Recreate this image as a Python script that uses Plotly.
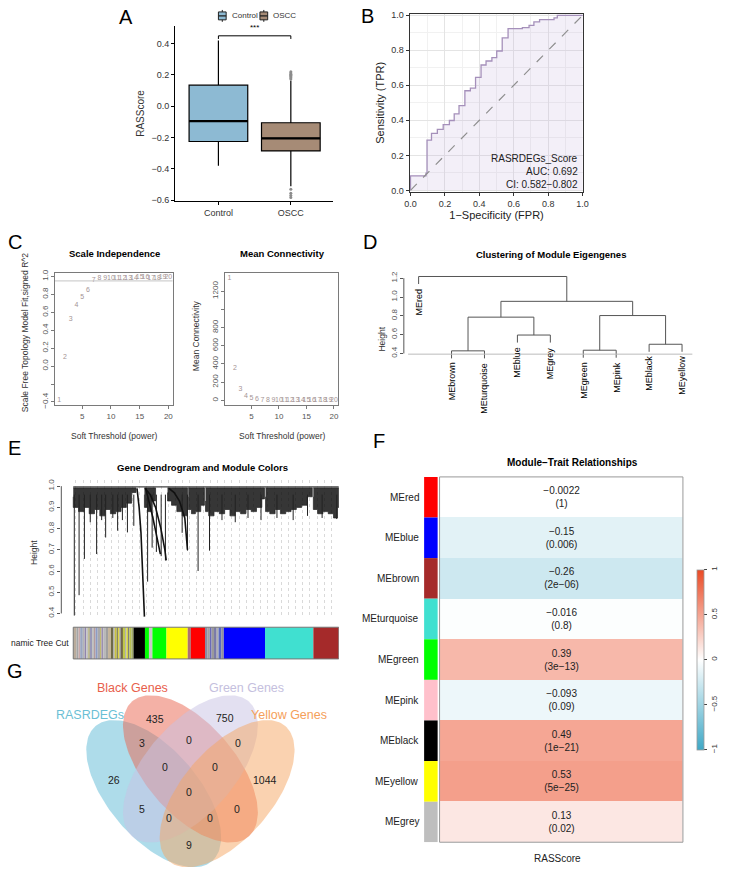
import numpy as np
import plotly.graph_objects as go

W, H = 729, 871
FONT = "Liberation Sans, Arial, sans-serif"

# ---------------- data ----------------
# A: RASScore boxplot
groups = ["Control", "OSCC"]
box_q1 = [-0.225, -0.285]
box_median = [-0.095, -0.205]
box_q3 = [0.135, -0.105]
box_low = [-0.38, -0.51]
box_high = [0.42, 0.165]
oscc_outliers = [0.175, 0.183, 0.19, 0.198, 0.205, 0.213, 0.22, -0.53, -0.555, -0.57, -0.582]

# B: ROC curve (step corners)
roc_fpr = [0, 0, 0.09, 0.096, 0.122, 0.156, 0.19, 0.226, 0.254, 0.282, 0.316, 0.348, 0.378,
           0.41, 0.439, 0.473, 0.501, 0.533, 0.567, 0.65, 0.689, 0.717, 0.75, 0.834, 0.853, 1.0]
roc_tpr = [0, 0.083, 0.098, 0.287, 0.325, 0.348, 0.376, 0.399, 0.437, 0.484, 0.569, 0.584, 0.645,
           0.716, 0.739, 0.758, 0.796, 0.871, 0.924, 0.93, 0.943, 0.962, 0.975, 0.985, 1.0, 1.0]
roc_text = ["RASRDEGs_Score", "AUC: 0.692", "CI: 0.582\u22120.802"]

# C: soft threshold
powers = [1, 2, 3, 4, 5, 6, 7, 8, 9, 10, 11, 12, 13, 14, 15, 16, 17, 18, 19, 20]
sft_r2 = [-0.38, 0.10, 0.52, 0.68, 0.77, 0.85, 0.955, 0.975, 0.98, 0.98,
          0.983, 0.985, 0.985, 0.985, 0.987, 0.987, 0.985, 0.985, 0.987, 0.987]
mean_k = [1340, 350, 120, 45, 20, 10, 6, 4, 3, 2, 1.5, 1.2, 1.0, 0.8, 0.7, 0.6, 0.5, 0.4, 0.35, 0.3]
r2_cut = 0.95

# D: eigengene clustering (R hclust style merge table)
me_leaves = ["MEred", "MEbrown", "MEturquoise", "MEblue", "MEgrey", "MEgreen", "MEpink", "MEblack", "MEyellow"]
me_merge_left = [-2, -6, -8, -4, 1, 2, 5, -1]
me_merge_right = [-3, -7, -9, -5, 4, 3, 6, 7]
me_merge_height = [0.428, 0.435, 0.498, 0.596, 0.786, 0.803, 0.954, 1.218]
me_hang = 0.08

# E: gene dendrogram (x in % of leaves)
gene_canopy_group = [1] * 13 + [2] * 4 + [3] * 5 + [4] * 5 + [5] * 13 + [6] * 10 + [7] * 7
gene_canopy_x = [0, 2, 4, 6, 8, 10, 12, 14, 16, 18, 20, 22, 23.6,
                 26.8, 28, 29.5, 31,
                 35.5, 37, 39, 41, 43,
                 43.3, 44.5, 46, 48, 49.4,
                 49.8, 51, 53, 55, 57, 59, 61, 63, 65, 67, 69, 71, 72,
                 72.4, 74, 76, 78, 80, 82, 84, 86, 88, 90,
                 90.4, 92, 94, 96, 98, 99.5, 100]
gene_canopy_low = [0.95, 0.90, 0.88, 0.90, 0.87, 0.89, 0.86, 0.89, 0.87, 0.88, 0.90, 0.92, 0.97,
                   0.96, 0.90, 0.88, 0.93,
                   0.97, 0.93, 0.91, 0.88, 0.86,
                   0.95, 0.89, 0.87, 0.88, 0.91,
                   0.93, 0.88, 0.86, 0.88, 0.87, 0.89, 0.86, 0.88, 0.87, 0.89, 0.88, 0.90, 0.94,
                   0.95, 0.88, 0.87, 0.89, 0.87, 0.88, 0.89, 0.90, 0.91, 0.95,
                   0.95, 0.89, 0.87, 0.88, 0.87, 0.85, 0.90]
gene_spike_x = [0.4, 2.2, 4.2, 6.4, 8.8, 10.7, 12.2, 14.9, 16.7, 18.5, 20.4, 22.8, 28, 29.7, 31.3,
                33.1, 34.7, 41, 43, 47, 51.3, 56, 61, 65.8, 70.7, 76.7, 82.8, 88.2, 93.7, 99.2]
gene_spike_low = [0.39, 0.486, 0.657, 0.83, 0.68, 0.84, 0.758, 0.85, 0.79, 0.84, 0.782, 0.813, 0.55, 0.71, 0.69,
                  0.67, 0.65, 0.78, 0.696, 0.60, 0.696, 0.84, 0.83, 0.85, 0.84, 0.85, 0.84, 0.86, 0.85, 0.845]
gene_curve_group = [1] * 6 + [2] * 6 + [3] * 5 + [4] * 5
gene_curve_x = [24.0, 24.8, 25.5, 26.1, 26.5, 26.8,
                27.0, 29.0, 31.0, 33.0, 34.5, 35.0,
                27.3, 28.5, 30.0, 31.5, 32.8,
                36.0, 38.0, 40.0, 42.0, 43.0]
gene_curve_h = [0.99, 0.90, 0.78, 0.62, 0.48, 0.385,
                0.99, 0.96, 0.90, 0.80, 0.70, 0.65,
                0.99, 0.93, 0.85, 0.76, 0.68,
                0.99, 0.97, 0.93, 0.85, 0.70]
gene_top = 0.992
gene_root = 0.997

# E: dynamic tree cut colour stripes (widths in % of leaves)
cut_colors = ["#b9ab9b", "#a5a5a5", "#c9a9a9", "#9aa6c0", "#b4b4b4", "#8f84ad", "#c2c2c2", "#a7a25e",
              "#9999b8", "#bdbdbd", "#b59c9c", "#8c9cc4", "#a9a9a9", "#bab36a", "#9b8fb0", "#b8b8b8",
              "#a0a0a0", "#c4b49a",
              "#6e6a48", "#a9a9a9", "#c8c040", "#8a8a5a", "#d8d030", "#9a9a9a", "#6b5f3f", "#c0c84a",
              "#b0b0b0", "#d4d43c", "#7f7f7f", "#b8c050", "#9fa86a",
              "#000000", "#00FF00", "#c8c8c8", "#00FF00", "#FFFF00", "#b07070", "#FF0000",
              "#8a8aa0", "#a0a0a0", "#6a6ab8", "#9a9a9a", "#7a7aa8", "#b0b0b0", "#5a6ac0", "#8f8f9f",
              "#0000FF", "#40E0D0", "#A52A2A"]
cut_widths = [1.2, 0.8, 0.6, 1.0, 0.7, 0.6, 0.8, 0.5, 0.9, 0.7, 0.6, 0.8, 0.9, 0.5, 0.7, 0.8, 1.0, 1.1,
              0.8, 0.6, 0.7, 0.6, 0.5, 0.6, 0.7, 0.8, 0.5, 0.6, 0.5, 0.8, 0.8,
              4.3, 1.5, 1.3, 5.3, 8.0, 1.2, 5.3,
              1.0, 0.8, 0.7, 0.9, 1.0, 0.7, 1.0, 1.0,
              15.5, 18.2, 9.6]

# F: module-trait relationships
mt_modules = ["MEred", "MEblue", "MEbrown", "MEturquoise", "MEgreen", "MEpink", "MEblack", "MEyellow", "MEgrey"]
mt_side = ["#FF0000", "#0000FF", "#A52A2A", "#40E0D0", "#00FF00", "#FFC0CB", "#000000", "#FFFF00", "#BEBEBE"]
mt_cor = [-0.0022, -0.15, -0.26, -0.016, 0.39, -0.093, 0.49, 0.53, 0.13]
mt_p = ["1", "0.006", "2e-06", "0.8", "3e-13", "0.09", "1e-21", "5e-25", "0.02"]

# G: Venn
venn_names = ["RASRDEGs", "Black Genes", "Green Genes", "Yellow Genes"]
venn_counts = [435, 750, 3, 0, 0, 26, 0, 0, 1044, 0, 5, 0, 0, 0, 9]

# ---------------- layout helpers ----------------
def xd(a, b):
    return [a / W, b / W]


def yd(top, bottom):
    return [1 - bottom / H, 1 - top / H]


def px(x):
    return x / W


def py(y):
    return 1 - y / H


fig = go.Figure()
ann = []
shapes = []


def label(x, y, text, size=9, bold=False, angle=0, xanchor="center", yanchor="middle", color="black",
          xref="paper", yref="paper"):
    t = "<b>%s</b>" % text if bold else text
    ann.append(dict(x=x, y=y, xref=xref, yref=yref, text=t, showarrow=False, textangle=angle,
                    xanchor=xanchor, yanchor=yanchor, font=dict(size=size, color=color, family=FONT)))


# ---------------- A ----------------
box_colors = ["#8DBAD3", "#A68B76"]
for i, g in enumerate(groups):
    fig.add_trace(go.Box(x=[i], q1=[box_q1[i]], median=[box_median[i]], q3=[box_q3[i]],
                         lowerfence=[box_low[i]], upperfence=[box_high[i]], name=g,
                         fillcolor=box_colors[i], line=dict(color="black", width=1.2),
                         width=0.81, whiskerwidth=0, boxpoints=False, hoverinfo="skip",
                         showlegend=False, xaxis="x", yaxis="y"))
    fig.add_trace(go.Scatter(x=[i - 0.405, i + 0.405], y=[box_median[i]] * 2, mode="lines",
                             line=dict(color="black", width=2.4), showlegend=False,
                             xaxis="x", yaxis="y"))
fig.add_trace(go.Scatter(x=[1] * len(oscc_outliers), y=oscc_outliers, mode="markers",
                         marker=dict(size=3, color="#8c8c8c"), showlegend=False, xaxis="x", yaxis="y"))
fig.add_trace(go.Scatter(x=[0, 0, 1, 1], y=[0.43, 0.45, 0.45, 0.43], mode="lines",
                         line=dict(color="black", width=1), showlegend=False, xaxis="x", yaxis="y"))
label(0.5, 0.462, "***", size=8, xref="x", yref="y", yanchor="bottom")

# legend keys drawn like ggplot box glyphs
for g, col, kx in zip(groups, box_colors, [225, 268]):
    shapes.append(dict(type="line", xref="paper", yref="paper", x0=px(kx), x1=px(kx), y0=py(18), y1=py(6),
                       line=dict(color="#222", width=1)))
    shapes.append(dict(type="rect", xref="paper", yref="paper", x0=px(kx - 4), x1=px(kx + 4),
                       y0=py(16), y1=py(8), fillcolor=col, line=dict(color="#222", width=1)))
    shapes.append(dict(type="line", xref="paper", yref="paper", x0=px(kx - 4), x1=px(kx + 4),
                       y0=py(12), y1=py(12), line=dict(color="#222", width=1.3)))
    label(px(kx + 7.5), py(12), g, size=8, xanchor="left", color="#333")

# ---------------- B ----------------
fig.add_trace(go.Scatter(x=roc_fpr, y=roc_tpr, mode="lines", line=dict(color="#A590BA", width=1.3, shape="hv"),
                         fill="tozeroy", fillcolor="rgba(190,165,215,0.18)", showlegend=False,
                         xaxis="x2", yaxis="y2"))
fig.add_trace(go.Scatter(x=[0, 1], y=[0, 1], mode="lines", line=dict(color="#8f8f8f", width=1.2, dash="dash"),
                         showlegend=False, xaxis="x2", yaxis="y2"))
for t, yy in zip(roc_text, [0.183, 0.108, 0.036]):
    label(0.985, yy, t, size=10, xref="x2", yref="y2", xanchor="right", color="#222")

# ---------------- C ----------------
txt_col = "#a49494"
fig.add_trace(go.Scatter(x=powers, y=sft_r2, mode="text", text=[str(p) for p in powers],
                         textfont=dict(size=7, color=txt_col, family=FONT), showlegend=False,
                         xaxis="x3", yaxis="y3"))
fig.add_trace(go.Scatter(x=[0.24, 20.76], y=[r2_cut, r2_cut], mode="lines", line=dict(color="#c4c4c4", width=1),
                         showlegend=False, xaxis="x3", yaxis="y3"))
fig.add_trace(go.Scatter(x=powers, y=mean_k, mode="text", text=[str(p) for p in powers],
                         textfont=dict(size=7, color=txt_col, family=FONT), showlegend=False,
                         xaxis="x4", yaxis="y4"))
label(px(113), py(252), "Scale Independence", size=9.5, bold=True)
label(px(287), py(252), "Mean Connectivity", size=9.5, bold=True)
label(px(113), py(436), "Soft Threshold (power)", size=8.5, color="#333")
label(px(287), py(436), "Soft Threshold (power)", size=8.5, color="#333")
label(px(21), py(331), "Scale Free Topology Model Fit,signed R^2", size=8.5, angle=-90, color="#333")
label(px(198), py(335), "Mean Connectivity", size=8.5, angle=-90, color="#333")

# ---------------- D ----------------
node_x, node_h, leaf_end = {}, {}, {}
seg_x, seg_y = [], []
for k, (l, r, h) in enumerate(zip(me_merge_left, me_merge_right, me_merge_height), start=1):
    xs, tops = [], []
    for c in (l, r):
        if c < 0:
            cx, cy = -c, h - me_hang
            leaf_end[-c] = cy
        else:
            cx, cy = node_x[c], node_h[c]
        xs.append(cx)
        tops.append(cy)
    seg_x += [xs[0], xs[0], xs[1], xs[1], None]
    seg_y += [tops[0], h, h, tops[1], None]
    node_x[k] = (xs[0] + xs[1]) / 2
    node_h[k] = h
fig.add_trace(go.Scatter(x=seg_x, y=seg_y, mode="lines", line=dict(color="#555", width=1),
                         showlegend=False, xaxis="x5", yaxis="y5"))
fig.add_trace(go.Scatter(x=[0.68, 9.32], y=[0.393, 0.393], mode="lines", line=dict(color="#bbb", width=1),
                         showlegend=False, xaxis="x5", yaxis="y5"))
for i, name in enumerate(me_leaves):
    label(i + 1, leaf_end[i + 1] - 0.025, name, size=9, angle=-90, xref="x5", yref="y5", yanchor="top")
shapes.append(dict(type="line", xref="paper", yref="y5", x0=px(413), x1=px(413), y0=0.4, y1=1.2,
                   line=dict(color="#555", width=1)))
label(px(565), py(253), "Clustering of Module Eigengenes", size=9.5, bold=True)
label(px(390), py(338), "Height", size=8.5, angle=-90, color="#333")

# ---------------- E ----------------
for g in sorted(set(gene_canopy_group)):
    xs = [x for x, gg in zip(gene_canopy_x, gene_canopy_group) if gg == g]
    lo = [v for v, gg in zip(gene_canopy_low, gene_canopy_group) if gg == g]
    fig.add_trace(go.Scatter(x=xs + xs[::-1], y=lo + [gene_top] * len(xs), fill="toself",
                             fillcolor="rgba(10,10,10,0.82)", mode="lines",
                             line=dict(color="#222", width=0.7, shape="vh"),
                             showlegend=False, xaxis="x6", yaxis="y6"))
sx, sy = [], []
for x, lo in zip(gene_spike_x, gene_spike_low):
    sx += [x, x, None]
    sy += [0.96, lo, None]
fig.add_trace(go.Scatter(x=sx, y=sy, mode="lines", line=dict(color="#222", width=1),
                         showlegend=False, xaxis="x6", yaxis="y6"))
for g in sorted(set(gene_curve_group)):
    xs = [x for x, gg in zip(gene_curve_x, gene_curve_group) if gg == g]
    hs = [v for v, gg in zip(gene_curve_h, gene_curve_group) if gg == g]
    fig.add_trace(go.Scatter(x=xs, y=hs, mode="lines", line=dict(color="#111", width=1.6),
                             showlegend=False, xaxis="x6", yaxis="y6"))
fig.add_trace(go.Scatter(x=[0, 100], y=[gene_root, gene_root], mode="lines", line=dict(color="#444", width=1.2),
                         showlegend=False, xaxis="x6", yaxis="y6"))
shapes.append(dict(type="line", xref="paper", yref="y6", x0=px(58.3), x1=px(58.3), y0=0.4, y1=1.0,
                   line=dict(color="#555", width=1)))
x0 = 0.0
for c, w in zip(cut_colors, cut_widths):
    shapes.append(dict(type="rect", xref="x6", yref="paper", x0=x0, x1=x0 + w, y0=py(661), y1=py(629),
                       fillcolor=c, line=dict(width=0), layer="above"))
    x0 += w
shapes.append(dict(type="rect", xref="x6", yref="paper", x0=0, x1=100, y0=py(661), y1=py(629),
                   line=dict(color="#777", width=1)))
label(px(68), py(645), "namic Tree Cut", size=8.5, xanchor="right", color="#222")
label(px(205), py(468), "Gene Dendrogram and Module Colors", size=9.5, bold=True)
label(px(30), py(553), "Height", size=8.5, angle=-90, color="#333")

# ---------------- F ----------------
cell_text = ["%s<br>(%s)" % (str(v).replace("-", "\u2212"), p.replace("-", "\u2212")) for v, p in zip(mt_cor, mt_p)]
fig.add_trace(go.Heatmap(z=[[v] for v in mt_cor], x=["RASScore"], y=mt_modules, text=[[t] for t in cell_text],
                         texttemplate="%{text}", textfont=dict(size=10, color="#222", family=FONT),
                         zmin=-1, zmax=1,
                         colorscale=[[0, "#3FA8C6"], [0.5, "#FFFFFF"], [1, "#EA4A25"]],
                         colorbar=dict(x=px(706), xanchor="left", thickness=7, len=201.7 / H, lenmode="fraction",
                                       y=py(661.85), yanchor="middle", tickvals=[-1, -0.5, 0, 0.5, 1],
                                       ticktext=["\u22121", "\u22120.5", "0", "0.5", "1"], tickangle=-90,
                                       ticks="outside", ticklen=3, outlinecolor="#999", outlinewidth=0.8,
                                       tickfont=dict(size=8, color="#333", family=FONT)),
                         xaxis="x7", yaxis="y7", hoverinfo="skip"))
for i, (m, c) in enumerate(zip(mt_modules, mt_side)):
    shapes.append(dict(type="rect", xref="paper", yref="y7", x0=px(434), x1=px(448), y0=i - 0.5, y1=i + 0.5,
                       fillcolor=c, line=dict(width=0)))
    label(px(431), i, m, size=10, xanchor="right", yref="y7", color="#222")
shapes.append(dict(type="rect", xref="x7 domain", yref="y7 domain", x0=0, x1=1, y0=0, y1=1,
                   line=dict(color="#999", width=1)))
label(px(588), py(463), "Module\u2212Trait Relationships", size=10, bold=True)
label(px(572), py(862), "RASScore", size=10, color="#222")

# ---------------- G ----------------
venn_cx = [154, 192, 192, 230]
venn_cy = [797, 772, 772, 797]
venn_ang = [48, 48, 132, 132]
venn_a, venn_b = 91, 46
venn_fill = ["rgba(93,185,213,0.5)", "rgba(233,100,78,0.5)", "rgba(200,193,228,0.5)", "rgba(245,165,97,0.5)"]
venn_label_col = ["#6BBFD5", "#E8604C", "#C5C0DE", "#F5A05A"]
venn_label_pos = [(88, 718), (132, 690), (250, 690), (294, 718)]
venn_count_pos = [(155, 722), (228, 721), (142, 746), (191, 743), (241, 746), (113, 783), (166, 770),
                  (217, 770), (269, 783), (191, 795), (142, 812), (240, 812), (170, 822), (212, 822), (191, 849)]
t = np.linspace(0, 2 * np.pi, 160)
for cx, cy, ang, fc in zip(venn_cx, venn_cy, venn_ang, venn_fill):
    c, s = np.cos(np.radians(ang)), np.sin(np.radians(ang))
    ex = cx + venn_a * np.cos(t) * c - venn_b * np.sin(t) * s
    ey = cy + venn_a * np.cos(t) * s + venn_b * np.sin(t) * c
    fig.add_trace(go.Scatter(x=ex, y=ey, fill="toself", fillcolor=fc, mode="lines", line=dict(width=0),
                             showlegend=False, hoverinfo="skip", xaxis="x8", yaxis="y8"))
for n, (lx, ly), col in zip(venn_names, venn_label_pos, venn_label_col):
    label(lx, ly, n, size=12.5, xref="x8", yref="y8", color=col)
for v, (cx, cy) in zip(venn_counts, venn_count_pos):
    label(cx, cy, str(v), size=10.5, xref="x8", yref="y8", color="#222")

# ---------------- panel letters ----------------
for L, (lx, ly) in zip("ABCDEFG", [(125, 13), (375, 12), (10, 240), (378, 240), (10, 448), (387, 441), (10, 673)]):
    label(px(lx), py(ly), L, size=20)

# ---------------- axes ----------------
tf = dict(size=9, color="#333", family=FONT)
base = dict(showgrid=False, zeroline=False, ticks="outside", ticklen=3, tickfont=tf)
rbase = dict(base, showline=True, mirror=True, linecolor="#7a7a7a", linewidth=1, tickcolor="#7a7a7a",
             tickfont=dict(size=8, color="#555", family=FONT))
hidden = dict(visible=False, showgrid=False, zeroline=False)

fig.update_layout(
    width=W, height=H, margin=dict(l=0, r=0, t=0, b=0),
    paper_bgcolor="white", plot_bgcolor="white",
    font=dict(family=FONT, size=10, color="#222"),
    showlegend=False,
    xaxis=dict(base, domain=xd(176, 340), range=[-0.6, 1.587], tickvals=[0, 1], ticktext=groups,
               showline=True, linecolor="black", linewidth=1, tickcolor="black", anchor="y"),
    yaxis=dict(base, domain=yd(22, 199), range=[-0.606, 0.514], dtick=0.2, tick0=0, tickformat=".1f",
               showline=True, linecolor="black", linewidth=1, tickcolor="black", anchor="x",
               title=dict(text="RASScore", font=dict(size=10, color="#333"), standoff=4)),
    xaxis2=dict(base, domain=xd(419, 599), range=[-0.005, 1.005], dtick=0.2, tickformat=".1f",
                showgrid=True, gridcolor="#e4e4e4", gridwidth=0.8,
                minor=dict(dtick=0.1, showgrid=True, gridcolor="#f1f1f1", gridwidth=0.6),
                showline=True, mirror=True, linecolor="#333", linewidth=1, tickcolor="#333", anchor="y2",
                title=dict(text="1\u2212Specificity (FPR)", font=dict(size=11, color="#222"), standoff=2)),
    yaxis2=dict(base, domain=yd(10, 189.5), range=[-0.008, 1.008], dtick=0.2, tickformat=".1f",
                showgrid=True, gridcolor="#e4e4e4", gridwidth=0.8,
                minor=dict(dtick=0.1, showgrid=True, gridcolor="#f1f1f1", gridwidth=0.6),
                showline=True, mirror=True, linecolor="#333", linewidth=1, tickcolor="#333", anchor="x2",
                title=dict(text="Sensitivity (TPR)", font=dict(size=11, color="#222"), standoff=4)),
    xaxis3=dict(rbase, domain=xd(51.7, 173.7), range=[0.24, 20.76], tickvals=[5, 10, 15, 20], anchor="y3"),
    yaxis3=dict(rbase, domain=yd(271.7, 405), range=[-0.437, 1.036],
                tickvals=[-0.4, -0.2, 0, 0.2, 0.4, 0.6, 0.8, 1.0],
                ticktext=["\u22120.4", "", "0.0", "0.2", "0.4", "0.6", "0.8", "1.0"], tickangle=-90, anchor="x3"),
    xaxis4=dict(rbase, domain=xd(228, 345), range=[0.24, 20.76], tickvals=[5, 10, 15, 20], anchor="y4"),
    yaxis4=dict(rbase, domain=yd(271.7, 405), range=[-54, 1398],
                tickvals=[0, 200, 400, 600, 800, 1000, 1200],
                ticktext=["0", "200", "400", "600", "800", "", "1200"], tickangle=-90, anchor="x4"),
    xaxis5=dict(hidden, domain=xd(413, 712), range=[0.551, 9.32], anchor="y5"),
    yaxis5=dict(base, domain=yd(262, 420), range=[-0.308, 1.355], tickvals=[0.4, 0.6, 0.8, 1.0, 1.2],
                tickformat=".1f", tickangle=-90, tickcolor="#555",
                tickfont=dict(size=8, color="#555", family=FONT), anchor="x5"),
    xaxis6=dict(domain=xd(58.3, 345.7), range=[-4.5, 100], showticklabels=False, ticks="", zeroline=False,
                showgrid=True, griddash="dot", gridcolor="#d9d9d9", gridwidth=0.8,
                tickvals=[1 + 2.67 * k for k in range(37)], anchor="y6"),
    yaxis6=dict(base, domain=yd(480, 620), range=[0.377, 1.031], tickvals=[0.4, 0.5, 0.6, 0.7, 0.8, 0.9, 1.0],
                tickformat=".1f", tickangle=-90, tickcolor="#555",
                tickfont=dict(size=8, color="#555", family=FONT), anchor="x6"),
    xaxis7=dict(hidden, domain=xd(450, 702), anchor="y7"),
    yaxis7=dict(hidden, domain=yd(477.3, 846), autorange="reversed", type="category", anchor="x7"),
    xaxis8=dict(hidden, domain=xd(0, 400), range=[0, 400], anchor="y8"),
    yaxis8=dict(hidden, domain=yd(675, 871), range=[871, 675], anchor="x8"),
    annotations=ann,
    shapes=shapes,
)

fig.write_html("out.html", config={"displayModeBar": False},
               post_script="document.body.style.margin='0px';")
